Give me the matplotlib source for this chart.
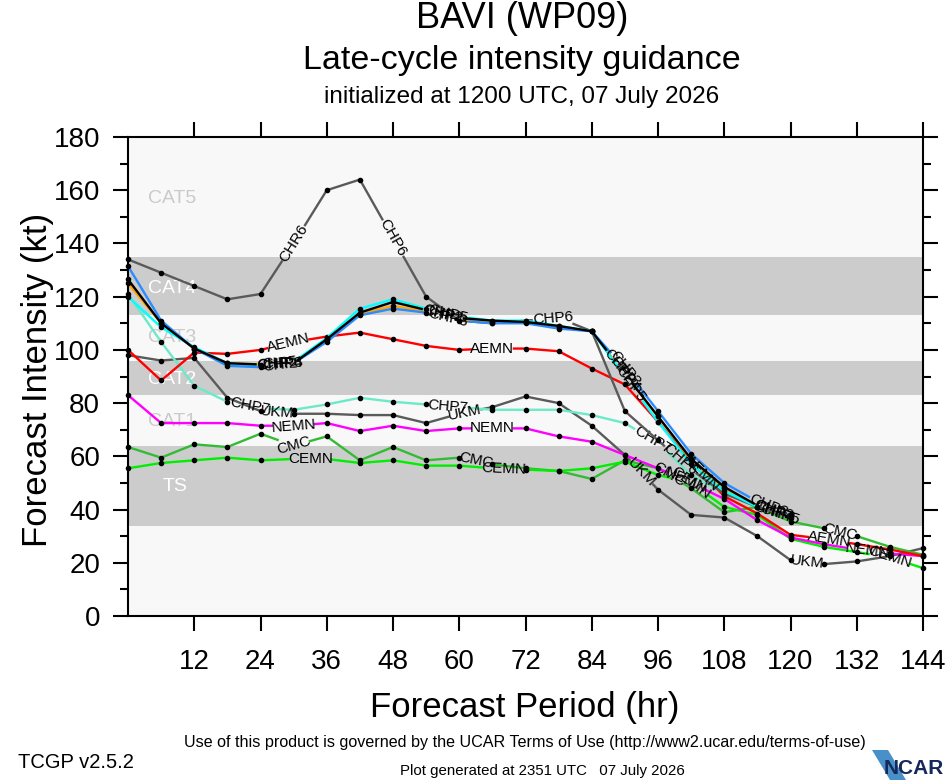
import numpy as np
import matplotlib
matplotlib.use('Agg')
import matplotlib.pyplot as plt
from matplotlib.patches import Polygon

plt.rcParams['font.family'] = ['Liberation Sans', 'DejaVu Sans']

nan = np.nan
hours = np.arange(0, 145, 6)

# intensity guidance (kt), one value every 6 h from 0 to 144 h
chp6 = [134, 129, 124, 119, 121, 140, 160, 164, 142, 120, 111, 110, 111, 112, 107,
        77, 66, 55, 46, 41, 37, nan, nan, nan, nan]
ukm = [98, 96, 97, 82, 77, 76, 76, 75.5, 75.5, 72.5, 76, 78.5, 82.5, 80, 71.5,
       60.5, 47.5, 38, 37, 30, 21, 19.5, 20.5, 22.5, 25.5]
aemn = [100, 88.5, 99, 98.5, 100, 103, 105, 106.5, 104, 101.5, 100, 100.5, 100.5, 99.5, 93,
        87, 73, 58, 45, 38.5, 30.5, 29, 27, 25, 22.5]
nemn = [83, 72.5, 72.5, 72.5, 71.5, 71.5, 72.5, 69.5, 71.5, 69.5, 70.5, 70.5, 70.5, 67.5, 65.5,
        60.5, 55.5, 50, 44, 36, 29.5, 27, 25, 23.5, 22.5]
cmc = [63.5, 59.5, 64.5, 63.5, 68.5, 64, 67.5, 58.5, 63.5, 58.5, 59.5, 57, 55.5, 54.5, 51.5,
       58.5, 55.5, 48, 39, 41, 35.5, 33, 30, 26, 23]
cemn = [55.5, 57.5, 58.5, 59.5, 58.5, 59, 59, 57.5, 58.5, 56.5, 56.5, 55.5, 55, 54.5, 55.5,
        58, 53, 50, 41, 38, 29, 26, 24, 22, 18]
chp7 = [121, 103, 86.5, 80.5, 78, 77.5, 79.5, 82, 80.5, 79.5, 78.5, 77.5, 77.5, 77.5, 75.5,
        72.5, 65, 53, 46, 41, 37, nan, nan, nan, nan]
chp4 = [125, 110, 100.5, 95, 94.5, 95, 104, 113.5, 116.5, 114.5, 111.5, 110.5, 110.5, 108.5, 107,
        91, 75, 58.5, 48, 41.5, 37, nan, nan, nan, nan]
chp5 = [120, 108.5, 101, 95, 94, 95.5, 104.5, 115.5, 119, 115.5, 112.5, 111, 111, 109, 107,
        90, 73, 57, 47, 41, 37, nan, nan, nan, nan]
chp3 = [131.5, 111, 100.5, 94, 93.5, 95, 103, 113, 115.5, 114, 111, 110, 110, 108, 107,
        93, 77, 61, 50, 43, 38, nan, nan, nan, nan]
chp2 = [126.5, 110, 100.5, 95, 94.5, 95, 104, 114, 118, 115, 112, 111, 110.5, 109, 107,
        91, 75, 59, 48.5, 41.5, 37.5, nan, nan, nan, nan]

cat_names = ['TS', 'CAT1', 'CAT2', 'CAT3', 'CAT4', 'CAT5']

fig = plt.figure(figsize=(9.46, 7.80), dpi=100)
ax = fig.add_axes([128 / 946, 1 - 616 / 780, 795 / 946, 479 / 780])
ax.set_xlim(0, 144)
ax.set_ylim(0, 180)
ax.set_facecolor('#f8f8f8')

for lo, hi in [(34, 64), (83, 96), (113, 135)]:
    ax.axhspan(lo, hi, color='#cccccc', lw=0, zorder=0)

cat_pos = [(6.3, 48.5), (3.6, 73), (3.6, 88.7), (3.6, 104.5), (3.6, 123), (3.6, 157)]
cat_col = ['white', '#cacaca', 'white', '#cacaca', 'white', '#cacaca']
for name, (cx, cy), c in zip(cat_names, cat_pos, cat_col):
    ax.text(cx, cy, name, color=c, fontsize=14, va='center', ha='left', zorder=1)


def draw_model(vals, color, labels, z):
    v = np.array(vals, float)
    ok = ~np.isnan(v)
    hx = hours[ok].astype(float)
    hy = v[ok]
    pts = ax.transData.transform(np.column_stack([hx, hy]))
    s = np.concatenate([[0], np.cumsum(np.hypot(*np.diff(pts, axis=0).T))])
    cuts = []
    for h, txt in labels:
        sc = np.interp(h, hx, s)
        half = 4.6 * len(txt) + 2
        cuts.append((sc - half, sc + half))
        i = min(np.searchsorted(hx, h, side='right') - 1, len(hx) - 2)
        dx, dy = pts[i + 1] - pts[i]
        ang = np.degrees(np.arctan2(dy, dx))
        ax.text(h, np.interp(h, hx, hy), txt, rotation=ang, rotation_mode='anchor',
                ha='center', va='center', fontsize=11, zorder=z + 0.5)
    extra = [np.clip(np.array(c), 0, s[-1]) for c in cuts]
    ss = np.unique(np.concatenate([s] + extra))
    xs = np.interp(ss, s, hx)
    ys = np.interp(ss, s, hy)
    X, Y = [], []
    for k in range(len(ss) - 1):
        m = 0.5 * (ss[k] + ss[k + 1])
        if any(a < m < b for a, b in cuts):
            X.append(nan)
            Y.append(nan)
            continue
        X += [xs[k], xs[k + 1]]
        Y += [ys[k], ys[k + 1]]
    ax.plot(X, Y, color=color, lw=1.7, zorder=z, solid_capstyle='butt')
    keep = np.array([not any(a < sk < b for a, b in cuts) for sk in s])
    ax.plot(hx[keep], hy[keep], 'o', ms=3, color='black', zorder=z + 0.2, clip_on=False)


draw_model(ukm, '#5a5a5a', [(27, 'UKM'), (61, 'UKM'), (93, 'UKM'), (123, 'UKM')], 2)
draw_model(chp7, '#6ceac8', [(22, 'CHP7'), (58, 'CHP7'), (95, 'CHP7'), (117, 'CHP7')], 2.1)
draw_model(cmc, '#33bb33', [(30, 'CMC'), (63, 'CMC'), (98, 'CMC'), (129, 'CMC')], 2.2)
draw_model(cemn, '#00ee00', [(33, 'CEMN'), (68, 'CEMN'), (102, 'CEMN'), (138, 'CEMN')], 2.3)
draw_model(nemn, '#ff00ff', [(30, 'NEMN'), (66, 'NEMN'), (101, 'NEMN'), (134, 'NEMN')], 2.4)
draw_model(aemn, '#ff0000', [(29, 'AEMN'), (66, 'AEMN'), (104, 'AEMN'), (127, 'AEMN')], 2.5)
draw_model(chp6, '#5a5a5a', [(30, 'CHR6'), (48, 'CHP6'), (77, 'CHP6'), (100, 'CHP6')], 2.6)
draw_model(chp4, '#ffa500', [(28, 'CHP4'), (57, 'CHP4'), (90, 'CHP4'), (117, 'CHP4')], 2.7)
draw_model(chp5, '#00ffff', [(27, 'CHP5'), (58, 'CHP5'), (91, 'CHP5'), (118, 'CHP5')], 2.8)
draw_model(chp3, '#2b8cff', [(28, 'CHP3'), (58, 'CHP3'), (90, 'CHP3'), (116, 'CHP3')], 2.9)
draw_model(chp2, 'black', [(27, 'CHP2'), (57, 'CHP2'), (89, 'CHP2'), (117, 'CHP2')], 3.0)

ax.set_xticks(range(12, 145, 12))
ax.set_yticks(range(0, 181, 20))
ax.set_yticks(range(10, 180, 20), minor=True)
ax.tick_params(which='major', direction='out', length=11, width=1.5, labelsize=20,
               top=True, right=True, pad=9)
ax.tick_params(axis='x', pad=13)
ax.tick_params(which='minor', direction='out', length=6, width=1.5, left=True, right=True)
for sp in ax.spines.values():
    sp.set_linewidth(1.5)

fig.text(522 / 946, 1 - 19 / 780, 'BAVI (WP09)', ha='center', va='center', fontsize=26)
fig.text(522 / 946, 1 - 61 / 780, 'Late-cycle intensity guidance', ha='center', va='center', fontsize=24.5)
fig.text(522 / 946, 1 - 97 / 780, 'initialized at 1200 UTC, 07 July 2026', ha='center', va='center',
         fontsize=17.5)
fig.text(525 / 946, 1 - 708 / 780, 'Forecast Period (hr)', ha='center', va='center', fontsize=25)
fig.text(38 / 946, 1 - 380 / 780, 'Forecast Intensity (kt)', ha='center', va='center', fontsize=25,
         rotation=90)
fig.text(525 / 946, 1 - 742 / 780,
         'Use of this product is governed by the UCAR Terms of Use (http://www2.ucar.edu/terms-of-use)',
         ha='center', va='center', fontsize=11.6)
fig.text(18 / 946, 1 - 762 / 780, 'TCGP v2.5.2', ha='left', va='center', fontsize=14.5)
fig.text(542 / 946, 1 - 771 / 780, 'Plot generated at 2351 UTC   07 July 2026', ha='center', va='center',
         fontsize=10.8)

# NCAR logo
swoosh = Polygon([(872 / 946, 1 - 750 / 780), (888 / 946, 1 - 750 / 780), (906 / 946, 1 - 780 / 780),
                  (890 / 946, 1 - 780 / 780)], closed=True, transform=fig.transFigure,
                 facecolor='#4a90c8', edgecolor='none')
fig.patches.append(swoosh)
fig.text(944 / 946, 1 - 768 / 780, 'NCAR', ha='right', va='center', fontsize=15, fontweight='bold',
         color='#14285a')

fig.savefig('out.png', dpi=100)
